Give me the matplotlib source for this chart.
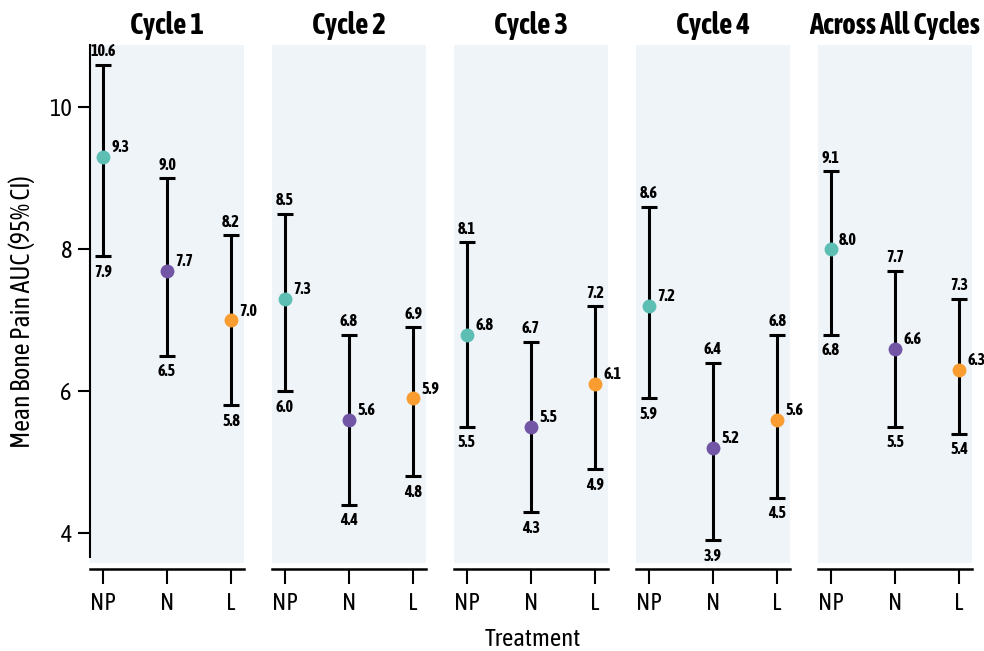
import matplotlib
matplotlib.use("Agg")
import matplotlib.pyplot as plt
from matplotlib import font_manager

# ---- data ----
panels = ["Cycle 1", "Cycle 2", "Cycle 3", "Cycle 4", "Across All Cycles"]
treatments = ["NP", "N", "L"]
means = [
    [9.3, 7.7, 7.0],
    [7.3, 5.6, 5.9],
    [6.8, 5.5, 6.1],
    [7.2, 5.2, 5.6],
    [8.0, 6.6, 6.3],
]
lower = [
    [7.9, 6.5, 5.8],
    [6.0, 4.4, 4.8],
    [5.5, 4.3, 4.9],
    [5.9, 3.9, 4.5],
    [6.8, 5.5, 5.4],
]
upper = [
    [10.6, 9.0, 8.2],
    [8.5, 6.8, 6.9],
    [8.1, 6.7, 7.2],
    [8.6, 6.4, 6.8],
    [9.1, 7.7, 7.3],
]
y_ticks = [4, 6, 8, 10]
colors = ["#5DBFB3", "#7256A5", "#F99D31"]

# ---- fonts: prefer a narrow sans that has a bold face ----
entries = font_manager.fontManager.ttflist
def wt(f):
    w = f.weight
    if isinstance(w, str):
        return {"bold": 700, "normal": 400, "regular": 400}.get(w, 400)
    return w
fams = {}
for f in entries:
    if "Narrow" in f.name or "Condensed" in f.name:
        fams.setdefault(f.name, set()).add(wt(f))
good = [n for n, ws in fams.items() if any(w >= 600 for w in ws) and any(w <= 500 for w in ws)]
good.sort(key=lambda n: (0 if "Liberation" in n or "Arial" in n else 1, n))
fam = good[0] if good else "Liberation Sans"
narrow_ok = bool(good)
plt.rcParams["font.family"] = [fam, "DejaVu Sans"]

sc = 1.0 if narrow_ok else 0.75
W, H = 984, 651
fig = plt.figure(figsize=(W / 100, H / 100), dpi=100)

ax_top, ax_bot = 45, 563
ylim = (3.58, 10.88)
lefts = [90, 272, 454, 636, 818]
pw = 154
bg = "#EFF4F9"
ann_fs = 11.5 * sc
tick_fs = 17.5 * sc

for i, name in enumerate(panels):
    ax = fig.add_axes([lefts[i] / W, 1 - ax_bot / H, pw / W, (ax_bot - ax_top) / H])
    ax.set_facecolor(bg)
    ax.set_xlim(-0.2, 2.2)
    ax.set_ylim(*ylim)
    for j, t in enumerate(treatments):
        m, lo, up = means[i][j], lower[i][j], upper[i][j]
        ax.errorbar([j], [m], yerr=[[m - lo], [up - m]], fmt="none",
                    ecolor="black", elinewidth=2.2, capsize=6, capthick=2.2, zorder=2)
        ax.plot([j], [m], "o", color=colors[j], markersize=10, zorder=3,
                markeredgewidth=0)
        ax.annotate(f"{up:.1f}", (j, up), xytext=(0, 4), textcoords="offset points",
                    ha="center", va="bottom", fontsize=ann_fs, fontweight="bold")
        ax.annotate(f"{lo:.1f}", (j, lo), xytext=(0, -5.5), textcoords="offset points",
                    ha="center", va="top", fontsize=ann_fs, fontweight="bold")
        ax.annotate(f"{m:.1f}", (j, m), xytext=(6, 7), textcoords="offset points",
                    ha="left", va="center", fontsize=ann_fs, fontweight="bold")
    ax.set_xticks(range(len(treatments)))
    ax.set_xticklabels(treatments)
    ax.tick_params(axis="x", length=11, width=1.5, pad=6, labelsize=tick_fs)
    for s in ["top", "right"]:
        ax.spines[s].set_visible(False)
    ax.spines["bottom"].set_position(("outward", 4))
    ax.spines["bottom"].set_linewidth(1.8)
    if i == 0:
        ax.spines["left"].set_linewidth(1.5)
        ax.spines["left"].set_bounds(3.67, ylim[1])
        ax.set_yticks(y_ticks)
        ax.tick_params(axis="y", length=9, width=1.5, labelsize=tick_fs, pad=4)
    else:
        ax.spines["left"].set_visible(False)
        ax.set_yticks([])
    ax.set_title(name, fontsize=20.8 * sc, fontweight="bold", pad=8)

fig.text(22 / W, 1 - 312 / H, "Mean Bone Pain AUC (95% CI)", rotation=90,
         ha="center", va="center", fontsize=18.5 * sc)
fig.text(533 / W, 1 - 640 / H, "Treatment", ha="center", va="center", fontsize=17.8 * sc)

fig.savefig("out.png", dpi=100)
